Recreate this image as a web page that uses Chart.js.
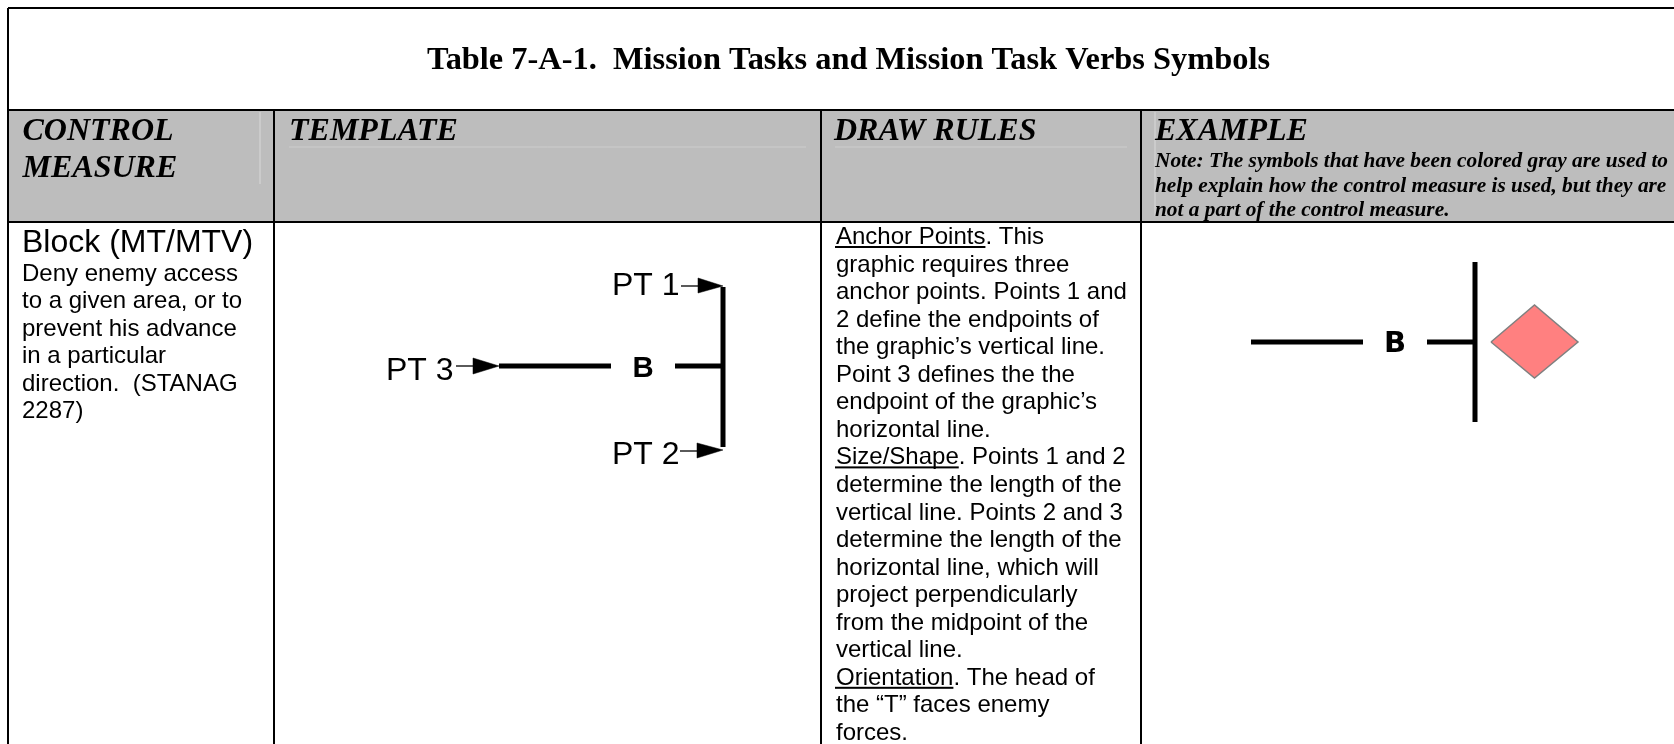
<!DOCTYPE html>
<html>
<head>
<meta charset="utf-8">
<title>Table 7-A-1</title>
<script src="https://cdn.jsdelivr.net/npm/chart.js@4"></script>
<style>
  html, body { margin: 0; padding: 0; background: #fff; }
  canvas { display: block; }
</style>
</head>
<body>
<canvas id="tabla" width="1674" height="744"></canvas>
<script>
const titulo = "Table 7-A-1.  Mission Tasks and Mission Task Verbs Symbols";
const encabezados = ["TEMPLATE", "DRAW RULES", "EXAMPLE"];
const encabezadoControl = ["CONTROL", "MEASURE"];
const nota = [
  "Note: The symbols that have been colored gray are used to",
  "help explain how the control measure is used, but they are",
  "not a part of the control measure."
];
const nombreTarea = "Block (MT/MTV)";
const descripcion = [
  "Deny enemy access",
  "to a given area, or to",
  "prevent his advance",
  "in a particular",
  "direction.  (STANAG",
  "2287)"
];
const reglas = [
  ["Anchor Points", ". This"],
  ["", "graphic requires three"],
  ["", "anchor points. Points 1 and"],
  ["", "2 define the endpoints of"],
  ["", "the graphic\u2019s vertical line."],
  ["", "Point 3 defines the the"],
  ["", "endpoint of the graphic\u2019s"],
  ["", "horizontal line."],
  ["Size/Shape", ". Points 1 and 2"],
  ["", "determine the length of the"],
  ["", "vertical line. Points 2 and 3"],
  ["", "determine the length of the"],
  ["", "horizontal line, which will"],
  ["", "project perpendicularly"],
  ["", "from the midpoint of the"],
  ["", "vertical line."],
  ["Orientation", ". The head of"],
  ["", "the \u201cT\u201d faces enemy"],
  ["", "forces."]
];

// geometria, en unidades de los ejes
const fondoEncabezado = [[8, 110], [1674, 110], [1674, 222], [8, 222], [8, 110]];
const lineasTabla = [
  [[8, 8], [1674, 8]],
  [[8, 8], [8, 744]],
  [[8, 110], [1674, 110]],
  [[8, 222], [1674, 222]],
  [[274, 110], [274, 744]],
  [[821, 110], [821, 744]],
  [[1141, 110], [1141, 744]]
];
const lineasClaras = [
  [[260, 112], [260, 184]],
  [[289, 147], [806, 147]],
  [[835, 147], [1127, 147]],
  [[1155, 112], [1155, 216]]
];
const plantillaGruesas = [
  [[723, 287], [723, 447]],
  [[499, 366], [611, 366]],
  [[675, 366], [723, 366]]
];
const plantillaFinas = [
  [[681, 286], [699, 286]],
  [[456, 366], [474, 366]],
  [[680, 451], [698, 451]]
];
const flechas = [
  [[698, 278], [723, 286], [698, 293], [698, 278]],
  [[473, 358], [499, 366], [473, 374], [473, 358]],
  [[697, 443], [723, 450], [697, 458], [697, 443]]
];
const ejemploGruesas = [
  [[1475, 262], [1475, 422]],
  [[1251, 342], [1363, 342]],
  [[1427, 342], [1475, 342]]
];
const rombo = [[1491, 342], [1534.5, 305], [1578, 342], [1534.5, 378], [1491, 342]];

function aPuntos(pares) {
  return pares.map((p) => ({ x: p[0], y: p[1] }));
}

function serieLinea(pares, color, ancho) {
  return {
    data: aPuntos(pares),
    showLine: true,
    fill: false,
    borderColor: color,
    borderWidth: ancho,
    borderCapStyle: "butt",
    pointRadius: 0,
    tension: 0,
    order: 2
  };
}

function serieForma(pares, relleno, borde, ancho, orden) {
  return {
    data: aPuntos(pares),
    showLine: true,
    fill: "shape",
    backgroundColor: relleno,
    borderColor: borde,
    borderWidth: ancho,
    borderJoinStyle: "miter",
    pointRadius: 0,
    tension: 0,
    order: orden
  };
}

const datasets = [
  serieForma(fondoEncabezado, "#bdbdbd", "#bdbdbd", 0, 10),
  ...lineasClaras.map((l) => ({ ...serieLinea(l, "#cdcdcd", 1), order: 9 })),
  ...lineasTabla.map((l) => serieLinea(l, "#000000", 2)),
  ...plantillaGruesas.map((l) => serieLinea(l, "#000000", 5)),
  ...plantillaFinas.map((l) => serieLinea(l, "#000000", 1.3)),
  ...flechas.map((f) => serieForma(f, "#000000", "#000000", 0.5, 1)),
  ...ejemploGruesas.map((l) => serieLinea(l, "#000000", 5)),
  serieForma(rombo, "#ff8080", "#808080", 1.5, 1)
];

const SANS = '"Liberation Sans", Arial, sans-serif';
const SERIF = '"Liberation Serif", "Times New Roman", serif';

const pluginTextos = {
  id: "textos",
  afterDatasetsDraw(chart) {
    const { ctx, scales } = chart;
    const px = (v) => scales.x.getPixelForValue(v);
    const py = (v) => scales.y.getPixelForValue(v);

    function texto(str, x, y, font, align) {
      ctx.font = font;
      ctx.textAlign = align || "left";
      ctx.textBaseline = "alphabetic";
      ctx.fillStyle = "#000";
      ctx.fillText(str, px(x), py(y));
    }

    ctx.save();
    texto(titulo, 427, 69, "bold 32.4px " + SERIF);

    const encab = "italic bold 32px " + SERIF;
    texto(encabezadoControl[0], 22.5, 140, encab);
    texto(encabezadoControl[1], 22.5, 177, encab);
    texto(encabezados[0], 289, 140, encab);
    texto(encabezados[1], 834, 140, encab);
    texto(encabezados[2], 1155, 140, encab);
    nota.forEach((linea, i) => {
      texto(linea, 1155, 167 + i * 24.5, "italic bold 21.33px " + SERIF);
    });

    texto(nombreTarea, 22, 252, "32px " + SANS);
    descripcion.forEach((linea, i) => {
      texto(linea, 22, 281 + i * 27.4, "24px " + SANS);
    });

    // las lineas con titulo llevan subrayado hecho a mano
    reglas.forEach((fila, i) => {
      const y = 244 + i * 27.55;
      const font = "24px " + SANS;
      ctx.font = font;
      const ancho = ctx.measureText(fila[0]).width;
      if (fila[0]) {
        texto(fila[0], 836, y, font);
        ctx.fillStyle = "#000";
        ctx.fillRect(px(835), py(y + 2), ancho + 1, 2);
      }
      texto(fila[1], 836 + ancho, y, font);
    });

    texto("PT 1", 612, 295, "32px " + SANS);
    texto("PT 3", 386, 380, "32px " + SANS);
    texto("PT 2", 612, 464, "32px " + SANS);
    texto("B", 643, 377, "bold 29.33px " + SANS, "center");
    texto("B", 1395, 352, 'bold 29px "DejaVu Sans", sans-serif', "center");
    ctx.restore();
  }
};

new Chart(document.getElementById("tabla"), {
  type: "scatter",
  data: { datasets },
  options: {
    responsive: false,
    animation: false,
    layout: { padding: 0 },
    plugins: {
      legend: { display: false },
      tooltip: { enabled: false },
      title: { display: false }
    },
    scales: {
      x: { type: "linear", min: 0, max: 1674, display: false },
      y: { type: "linear", min: 0, max: 744, reverse: true, display: false }
    }
  },
  plugins: [pluginTextos]
});
</script>
</body>
</html>
